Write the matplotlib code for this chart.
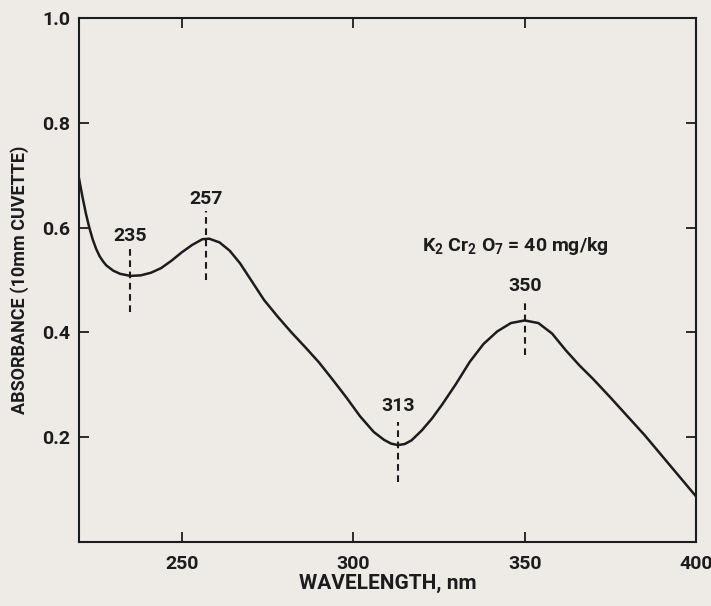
import matplotlib
matplotlib.use("Agg")
import matplotlib.pyplot as plt

# font setup - narrow bold sans, closest to the scanned original
plt.rcParams['font.family'] = ['Roboto', 'DejaVu Sans']
plt.rcParams['font.weight'] = 'bold'
plt.rcParams['axes.labelweight'] = 'bold'
plt.rcParams['mathtext.fontset'] = 'custom'
plt.rcParams['mathtext.rm'] = 'Roboto:bold'
plt.rcParams['mathtext.it'] = 'Roboto:bold'

# absorbance curve
wavelength = [220, 221, 222, 223, 224, 225, 226, 227, 228, 230, 232, 235, 238,
              241, 244, 247, 250, 253, 256, 258, 261, 264, 267, 270, 274, 278,
              282, 286, 290, 294, 298, 302, 306, 309, 311, 313, 315, 317, 320,
              323, 326, 330, 334, 338, 342, 346, 350, 354, 358, 362, 366, 370,
              375, 380, 385, 390, 395, 400]
absorbance = [0.695, 0.66, 0.628, 0.601, 0.578, 0.560, 0.546, 0.536, 0.528,
              0.518, 0.512, 0.508, 0.509, 0.514, 0.523, 0.537, 0.553, 0.567,
              0.578, 0.579, 0.572, 0.556, 0.532, 0.502, 0.462, 0.430, 0.400,
              0.372, 0.343, 0.310, 0.276, 0.240, 0.210, 0.195, 0.188, 0.185,
              0.187, 0.194, 0.213, 0.236, 0.263, 0.302, 0.344, 0.378, 0.402,
              0.418, 0.423, 0.418, 0.398, 0.366, 0.337, 0.311, 0.276, 0.240,
              0.204, 0.165, 0.126, 0.087]

# marked peaks / valleys
marks = [235, 257, 313, 350]
mark_lo = [0.44, 0.50, 0.115, 0.357]
mark_hi = [0.562, 0.632, 0.23, 0.464]
mark_label_y = [0.584, 0.655, 0.260, 0.488]

xticks = [250, 300, 350, 400]
yticks = [0.2, 0.4, 0.6, 0.8, 1.0]

bg = '#eeebe7'
ink = '#1c1c1c'

fig = plt.figure(figsize=(7.11, 6.06), dpi=100, facecolor=bg)
ax = fig.add_axes([0.111, 0.1056, 0.868, 0.8644], facecolor=bg)

ax.plot(wavelength, absorbance, color=ink, lw=1.8, solid_joinstyle='round')

for w, lo, hi, ly in zip(marks, mark_lo, mark_hi, mark_label_y):
    ax.plot([w, w], [lo, hi], color=ink, lw=1.5, dashes=(3.2, 2.2))
    ax.text(w, ly, str(w), ha='center', va='center', fontsize=14, color=ink)

ax.text(320, 0.565, r"K$_2$ Cr$_2$ O$_7$ = 40 mg/kg", ha='left', va='center',
        fontsize=14, color=ink)

ax.set_xlim(220, 400)
ax.set_ylim(0, 1.0)
ax.set_xticks(xticks)
ax.set_yticks(yticks)
ax.set_yticklabels(['%.1f' % v for v in yticks])
ax.tick_params(direction='in', length=7, width=1.3, colors=ink,
               top=True, right=True, labelsize=14)
ax.tick_params(axis='x', pad=9)
ax.tick_params(axis='y', pad=6)
for s in ax.spines.values():
    s.set_linewidth(1.5)
    s.set_color(ink)

ax.set_xlabel("WAVELENGTH, nm", fontsize=15, color=ink, labelpad=1)
ax.set_ylabel("ABSORBANCE (10mm CUVETTE)", fontsize=13, color=ink, labelpad=10)

fig.savefig("out.png", dpi=100, facecolor=bg)
